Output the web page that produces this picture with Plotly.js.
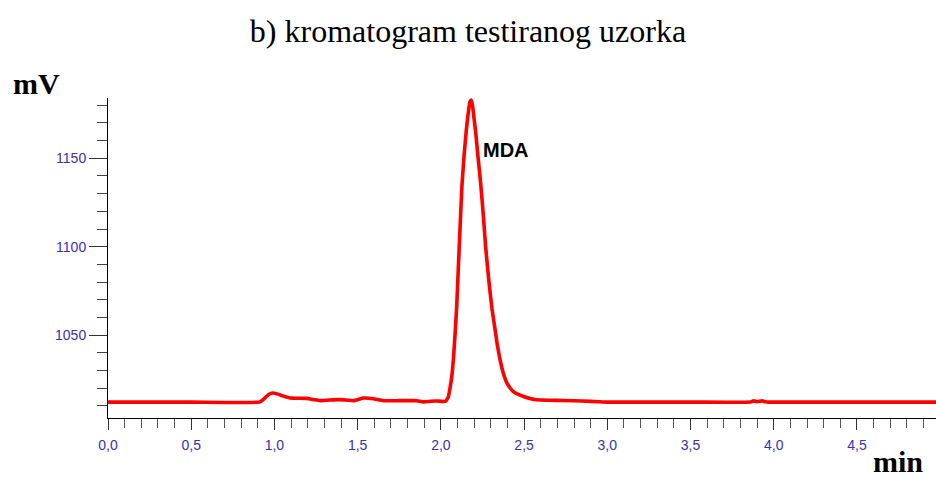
<!DOCTYPE html>
<html>
<head>
<meta charset="utf-8">
<script src="https://cdn.plot.ly/plotly-3.0.1.min.js"></script>
<style>
  html, body { margin: 0; padding: 0; background: #fff; }
  #chart { width: 936px; height: 480px; }
</style>
</head>
<body>
<div id="chart"></div>
<script>
// Retention time (min)
const timeMin = [
  0, 0.5, 0.913, 0.94, 0.965, 0.99, 1.02, 1.05, 1.094, 1.194, 1.24, 1.274, 1.33, 1.394, 1.474,
  1.505, 1.534, 1.594, 1.654, 1.75, 1.855, 1.895, 1.94, 1.975, 2.025,
  2.035, 2.045, 2.055, 2.065, 2.075, 2.085, 2.095, 2.105, 2.115, 2.127, 2.14, 2.153, 2.165,
  2.175, 2.182, 2.19, 2.2, 2.21, 2.224, 2.239, 2.254, 2.269, 2.288, 2.307, 2.326, 2.34, 2.356,
  2.375, 2.396, 2.415, 2.436, 2.465, 2.496, 2.535, 2.576, 2.65, 2.74, 2.85, 2.95, 3.0, 3.5,
  3.86, 3.88, 3.9, 3.93, 3.95, 3.97, 4.975
];
// Detector signal (mV)
const signalMV = [
  1012.1, 1012.1, 1012.2, 1014.2, 1016.4, 1017.2, 1016.6, 1015.6, 1014.4, 1014.2, 1013.4, 1012.9, 1013.3, 1013.5, 1012.9,
  1013.6, 1014.4, 1014.0, 1012.9, 1012.9, 1012.9, 1012.2, 1012.6, 1012.7, 1012.5,
  1013.4, 1015.0, 1020.0, 1026.0, 1036.0, 1050.0, 1066.0, 1088.0, 1110.0, 1135.0, 1152.0, 1166.0, 1176.0,
  1182.0, 1183.0, 1180.0, 1172.0, 1164.0, 1150.0, 1136.0, 1119.0, 1100.0, 1081.0, 1065.0, 1053.0, 1044.0, 1036.0,
  1028.5, 1023.0, 1020.2, 1018.0, 1016.4, 1015.3, 1014.2, 1013.4, 1013.1, 1013.0, 1012.7, 1012.3, 1012.1, 1012.1,
  1012.1, 1012.8, 1012.3, 1012.8, 1012.3, 1012.1, 1012.1
];
const xTickVals = [0, 0.5, 1.0, 1.5, 2.0, 2.5, 3.0, 3.5, 4.0, 4.5];
const xTickText = ['0,0', '0,5', '1,0', '1,5', '2,0', '2,5', '3,0', '3,5', '4,0', '4,5'];
const yTickVals = [1050, 1100, 1150];
const yTickText = ['1050', '1100', '1150'];
const peakLabel = 'MDA';
const chartTitle = 'b) kromatogram testiranog uzorka';

const tickBlue = '#3a30b4';
const trace = {
  x: timeMin,
  y: signalMV,
  type: 'scatter',
  mode: 'lines',
  line: { color: '#ff0000', width: 3.6, shape: 'spline', smoothing: 0.4 },
  hoverinfo: 'skip'
};

const layout = {
  width: 936,
  height: 480,
  margin: { l: 108, r: 0, t: 98, b: 62, pad: 0 },
  paper_bgcolor: '#ffffff',
  plot_bgcolor: '#ffffff',
  showlegend: false,
  title: {
    text: chartTitle,
    font: { family: '"Liberation Serif", "Times New Roman", serif', size: 32, color: '#000' },
    xref: 'container', x: 0.5, xanchor: 'center',
    yref: 'container', y: 1 - 31 / 480, yanchor: 'middle'
  },
  xaxis: {
    range: [0, 4.975],
    showline: true, linecolor: '#000', linewidth: 1,
    showgrid: false, zeroline: false,
    ticks: 'outside', ticklen: 11, tickwidth: 1, tickcolor: '#333',
    tickmode: 'array', tickvals: xTickVals, ticktext: xTickText,
    tickfont: { family: '"Liberation Sans", Arial, sans-serif', size: 14, color: tickBlue },
    ticklabelstandoff: 3,
    minor: { dtick: 0.1, tick0: 0, ticks: 'outside', ticklen: 9, tickwidth: 1, tickcolor: '#555', showgrid: false },
    automargin: false,
    fixedrange: true
  },
  yaxis: {
    range: [1003.1, 1184.1],
    showline: true, linecolor: '#000', linewidth: 1,
    showgrid: false, zeroline: false,
    ticks: 'outside', ticklen: 18, tickwidth: 1, tickcolor: '#333',
    tickmode: 'array', tickvals: yTickVals, ticktext: yTickText,
    tickfont: { family: '"Liberation Sans", Arial, sans-serif', size: 14, color: tickBlue },
    ticklabelstandoff: 0,
    minor: { dtick: 10, tick0: 1000, ticks: 'outside', ticklen: 10, tickwidth: 1, tickcolor: '#444', showgrid: false },
    automargin: false,
    fixedrange: true
  },
  annotations: [
    {
      text: '<b>mV</b>', xref: 'paper', yref: 'paper',
      x: (11 - 108) / 828, xanchor: 'left', y: (418 - 83.5) / 320, yanchor: 'middle',
      showarrow: false,
      font: { family: '"Liberation Serif", "Times New Roman", serif', size: 30, color: '#000' }
    },
    {
      text: '<b>min</b>', xref: 'paper', yref: 'paper',
      x: (925 - 108) / 828, xanchor: 'right', y: (418 - 480) / 320, yanchor: 'bottom',
      showarrow: false,
      font: { family: '"Liberation Serif", "Times New Roman", serif', size: 30, color: '#000' }
    },
    {
      text: '<b>' + peakLabel + '</b>', xref: 'x', yref: 'y',
      x: 2.242, xanchor: 'left', y: 1154.8, yanchor: 'middle',
      showarrow: false,
      font: { family: '"Liberation Sans", Arial, sans-serif', size: 20, color: '#000' }
    }
  ]
};

Plotly.newPlot('chart', [trace], layout, { staticPlot: true, displayModeBar: false });
</script>
</body>
</html>
